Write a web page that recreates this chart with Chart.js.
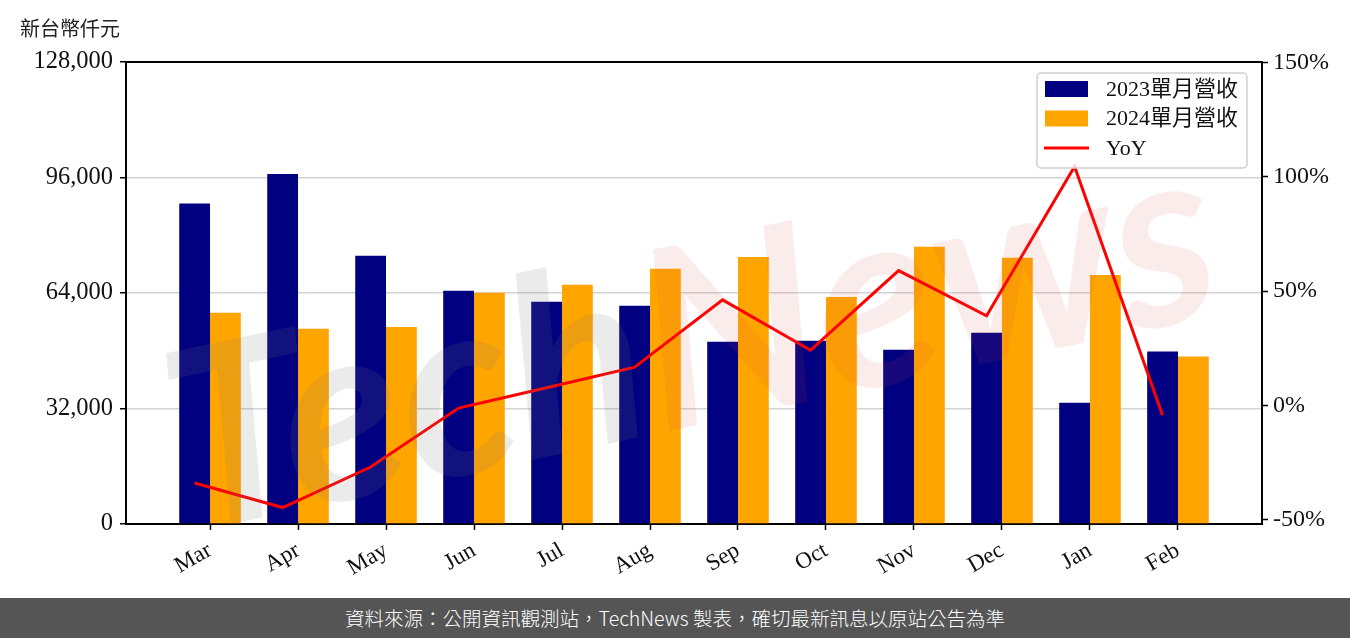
<!DOCTYPE html>
<html>
<head>
<meta charset="utf-8">
<script src="https://cdn.jsdelivr.net/npm/chart.js@4"></script>
<style>
  body { margin: 0; background: #fff; }
  #wrap { position: relative; width: 1350px; height: 638px; overflow: hidden; }
  #unit { position: absolute; left: 20px; top: 13px; font: 20px "Noto Sans CJK TC", sans-serif; color: #222; }
  #foot { position: absolute; left: 0; top: 598px; width: 1350px; height: 40px; background: #555;
          color: #fff; font: 300 19.5px "Noto Sans CJK TC", sans-serif; line-height: 40px; text-align: center; }
</style>
</head>
<body>
<div id="wrap">
  <canvas id="chart" width="1350" height="598"></canvas>
  <div id="unit">新台幣仟元</div>
  <div id="foot">資料來源：公開資訊觀測站，TechNews 製表，確切最新訊息以原站公告為準</div>
</div>
<script>
const months = ["Mar", "Apr", "May", "Jun", "Jul", "Aug", "Sep", "Oct", "Nov", "Dec", "Jan", "Feb"];
const rev2023 = [88800, 97000, 74300, 64600, 61600, 60500, 50500, 50800, 48300, 53000, 33600, 47800];
const rev2024 = [58500, 54100, 54600, 64100, 66300, 70700, 74000, 62900, 76800, 73800, 69000, 46400];
const yoy = [-33.9, -44.6, -26.9, -1.1, 7.8, 16.8, 46.2, 24.2, 59.0, 39.2, 104.5, -4.2];
const leftTicks = [0, 32000, 64000, 96000, 128000];
const rightTicks = [-50, 0, 50, 100, 150];

const serif = "'Liberation Serif', 'DejaVu Serif', 'Noto Sans CJK TC', serif";

const frameAndLegend = {
  id: "frameAndLegend",
  afterDatasetsDraw(chart) {
    const { ctx } = chart;
    // faint watermark
    ctx.save();
    ctx.translate(640, 340);
    ctx.rotate(-0.21);
    ctx.font = "italic 700 250px Lato, sans-serif";
    ctx.textBaseline = "alphabetic";
    ctx.textAlign = "right";
    ctx.fillStyle = "rgba(120,120,120,0.15)";
    ctx.fillText("Tech", 0, 95);
    ctx.textAlign = "left";
    ctx.fillStyle = "rgba(220,70,70,0.1)";
    ctx.fillText("News", 0, 95);
    ctx.restore();
  },
  afterDraw(chart) {
    const { ctx, chartArea: a } = chart;
    ctx.save();
    // top spine
    ctx.strokeStyle = "#000";
    ctx.lineWidth = 2;
    ctx.beginPath();
    ctx.moveTo(a.left - 1, a.top);
    ctx.lineTo(a.right + 1, a.top);
    ctx.stroke();

    // legend box
    const x = 1037, y = 73, w = 210, h = 95;
    ctx.beginPath();
    ctx.roundRect(x, y, w, h, 4);
    ctx.fillStyle = "rgba(255,255,255,0.8)";
    ctx.fill();
    ctx.strokeStyle = "#d0d0d0";
    ctx.lineWidth = 1.5;
    ctx.stroke();

    ctx.font = "22px " + serif;
    ctx.textBaseline = "middle";
    ctx.textAlign = "left";
    const rows = [89, 118.5, 148];
    chart.data.datasets.forEach((ds, i) => {
      const ry = rows[i];
      if (ds.type === "line") {
        ctx.strokeStyle = ds.borderColor;
        ctx.lineWidth = 3;
        ctx.beginPath();
        ctx.moveTo(1044, ry);
        ctx.lineTo(1089, ry);
        ctx.stroke();
      } else {
        ctx.fillStyle = ds.backgroundColor;
        ctx.fillRect(1045, ry - 8, 43, 16);
      }
      ctx.fillStyle = "#111";
      ctx.fillText(ds.label, 1106, ry + 1);
    });
    ctx.restore();
  }
};

new Chart(document.getElementById("chart"), {
  type: "bar",
  data: {
    datasets: [
      {
        label: "2023單月營收",
        data: rev2023.map((v, i) => ({ x: i, y: v })),
        backgroundColor: "#000080",
        yAxisID: "y",
        order: 1,
        categoryPercentage: 0.7,
        barPercentage: 1.0
      },
      {
        label: "2024單月營收",
        data: rev2024.map((v, i) => ({ x: i, y: v })),
        backgroundColor: "#ffa500",
        yAxisID: "y",
        order: 1,
        categoryPercentage: 0.7,
        barPercentage: 1.0
      },
      {
        type: "line",
        label: "YoY",
        data: yoy.map((v, i) => ({ x: i - 0.175, y: v })),
        borderColor: "#ff0000",
        borderWidth: 3,
        pointRadius: 0,
        tension: 0,
        yAxisID: "y1",
        order: 0
      }
    ]
  },
  options: {
    responsive: false,
    animation: false,
    devicePixelRatio: 1,
    layout: { padding: { top: 62, left: 0, right: 0, bottom: 0 } },
    plugins: {
      legend: { display: false },
      tooltip: { enabled: false }
    },
    scales: {
      x: {
        type: "linear",
        min: -0.955,
        max: 11.955,
        offset: false,
        afterBuildTicks: (s) => { s.ticks = months.map((m, i) => ({ value: i })); },
        afterFit: (s) => { s.height = 74; },
        grid: { offset: false, drawOnChartArea: false, drawTicks: true, tickLength: 6, tickColor: "#000", tickWidth: 1.5 },
        border: { color: "#000", width: 2 },
        ticks: {
          color: "#111",
          font: { family: serif, size: 23 },
          maxRotation: 30,
          minRotation: 30,
          autoSkip: false,
          padding: 7,
          callback: (v) => months[v] ?? ""
        }
      },
      y: {
        position: "left",
        min: 0,
        max: 128000,
        afterBuildTicks: (s) => { s.ticks = leftTicks.map((v) => ({ value: v })); },
        afterFit: (s) => { s.width = 126; },
        grid: { color: "#d3d3d3", lineWidth: 1.5, tickColor: "#000", tickLength: 6, tickWidth: 1.5 },
        border: { color: "#000", width: 2 },
        ticks: {
          color: "#111",
          font: { family: serif, size: 24.5 },
          padding: 7,
          callback: (v) => v.toLocaleString("en-US")
        }
      },
      y1: {
        position: "right",
        min: -51.8,
        max: 150.2,
        afterBuildTicks: (s) => { s.ticks = rightTicks.map((v) => ({ value: v })); },
        afterFit: (s) => { s.width = 88; },
        grid: { drawOnChartArea: false, tickColor: "#000", tickLength: 6, tickWidth: 1.5 },
        border: { color: "#000", width: 2 },
        ticks: {
          color: "#111",
          font: { family: serif, size: 24 },
          padding: 5,
          callback: (v) => v + "%"
        }
      }
    }
  },
  plugins: [frameAndLegend]
});
</script>
</body>
</html>
